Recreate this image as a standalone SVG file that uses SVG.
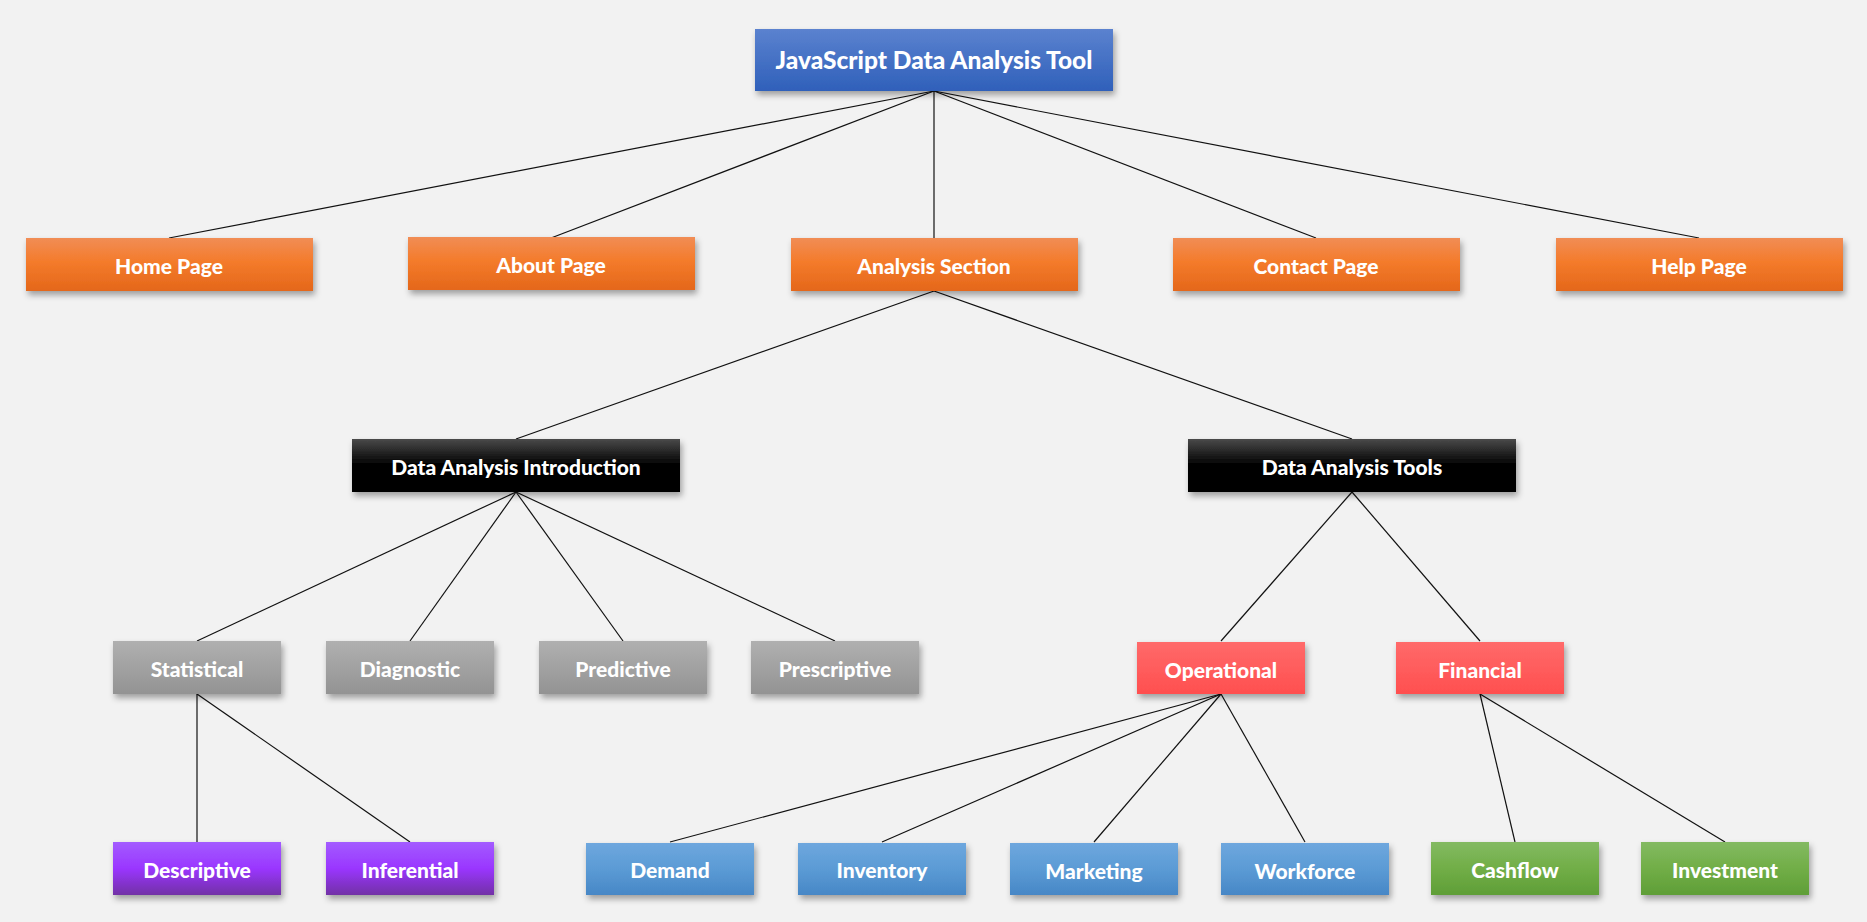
<svg xmlns="http://www.w3.org/2000/svg" width="1867" height="922" viewBox="0 0 1867 922">
<defs>
<linearGradient id="gBlue" x1="0" y1="0" x2="0" y2="1"><stop offset="0" stop-color="#5b82cf"/><stop offset="1" stop-color="#2f60ba"/></linearGradient>
<linearGradient id="gOrange" x1="0" y1="0" x2="0" y2="1"><stop offset="0" stop-color="#f18d55"/><stop offset="0.45" stop-color="#f47b2b"/><stop offset="1" stop-color="#e4671a"/></linearGradient>
<linearGradient id="gBlack" x1="0" y1="0" x2="0" y2="1"><stop offset="0" stop-color="#4a4a4a"/><stop offset="0.5" stop-color="#000"/><stop offset="1" stop-color="#000"/></linearGradient>
<linearGradient id="gGray" x1="0" y1="0" x2="0" y2="1"><stop offset="0" stop-color="#b0b0b0"/><stop offset="1" stop-color="#939393"/></linearGradient>
<linearGradient id="gRed" x1="0" y1="0" x2="0" y2="1"><stop offset="0" stop-color="#ff6a6a"/><stop offset="1" stop-color="#ff4f4f"/></linearGradient>
<linearGradient id="gPurple" x1="0" y1="0" x2="0" y2="1"><stop offset="0" stop-color="#a35cff"/><stop offset="0.5" stop-color="#9a36ff"/><stop offset="1" stop-color="#7230a6"/></linearGradient>
<linearGradient id="gLBlue" x1="0" y1="0" x2="0" y2="1"><stop offset="0" stop-color="#6ea7de"/><stop offset="0.5" stop-color="#5b9bd5"/><stop offset="1" stop-color="#4787c6"/></linearGradient>
<linearGradient id="gGreen" x1="0" y1="0" x2="0" y2="1"><stop offset="0" stop-color="#83ba62"/><stop offset="0.5" stop-color="#71ae47"/><stop offset="1" stop-color="#5f9e37"/></linearGradient>
<filter id="sh" x="-10%" y="-20%" width="125%" height="160%"><feDropShadow dx="2" dy="4" stdDeviation="3" flood-color="#000" flood-opacity="0.35"/></filter>
</defs>
<style>
.box{filter:url(#sh)}
text{font-family:"Lato","Open Sans","DejaVu Sans",sans-serif;font-weight:900;fill:#fff;text-anchor:middle;font-size:21px}
.t0{font-size:24.5px}
#connectors line{stroke:#111;stroke-width:1.2}
</style>
<rect width="1867" height="922" fill="#f2f2f2"/>
<g id="connectors">
<line x1="934" y1="91" x2="169" y2="238"/>
<line x1="934" y1="91" x2="551" y2="238"/>
<line x1="934" y1="91" x2="934" y2="238"/>
<line x1="934" y1="91" x2="1316" y2="238"/>
<line x1="934" y1="91" x2="1699" y2="238"/>
<line x1="934" y1="291" x2="516" y2="439"/>
<line x1="934" y1="291" x2="1352" y2="439"/>
<line x1="516" y1="492" x2="197" y2="641"/>
<line x1="516" y1="492" x2="410" y2="641"/>
<line x1="516" y1="492" x2="623" y2="641"/>
<line x1="516" y1="492" x2="835" y2="641"/>
<line x1="1352" y1="492" x2="1221" y2="641"/>
<line x1="1352" y1="492" x2="1480" y2="641"/>
<line x1="197" y1="694" x2="197" y2="842"/>
<line x1="197" y1="694" x2="410" y2="842"/>
<line x1="1221" y1="694" x2="670" y2="842"/>
<line x1="1221" y1="694" x2="882" y2="842"/>
<line x1="1221" y1="694" x2="1094" y2="842"/>
<line x1="1221" y1="694" x2="1305" y2="842"/>
<line x1="1480" y1="694" x2="1515" y2="842"/>
<line x1="1480" y1="694" x2="1725" y2="842"/>
</g>
<g id="root"><rect class="box" x="755" y="29" width="358" height="62" fill="url(#gBlue)"/><text class="t0" x="934" y="69">JavaScript Data Analysis Tool</text></g>
<g id="home"><rect class="box" x="26" y="238" width="287" height="53" fill="url(#gOrange)"/><text x="169" y="274">Home Page</text></g>
<g id="about"><rect class="box" x="408" y="237" width="287" height="53" fill="url(#gOrange)"/><text x="551" y="273">About Page</text></g>
<g id="analysis"><rect class="box" x="791" y="238" width="287" height="53" fill="url(#gOrange)"/><text x="934" y="274">Analysis Section</text></g>
<g id="contact"><rect class="box" x="1173" y="238" width="287" height="53" fill="url(#gOrange)"/><text x="1316" y="274">Contact Page</text></g>
<g id="help"><rect class="box" x="1556" y="238" width="287" height="53" fill="url(#gOrange)"/><text x="1699" y="274">Help Page</text></g>
<g id="intro"><rect class="box" x="352" y="439" width="328" height="53" fill="url(#gBlack)"/><text x="516" y="475">Data Analysis Introduction</text></g>
<g id="tools"><rect class="box" x="1188" y="439" width="328" height="53" fill="url(#gBlack)"/><text x="1352" y="475">Data Analysis Tools</text></g>
<g id="statistical"><rect class="box" x="113" y="641" width="168" height="53" fill="url(#gGray)"/><text x="197" y="677">Statistical</text></g>
<g id="diagnostic"><rect class="box" x="326" y="641" width="168" height="53" fill="url(#gGray)"/><text x="410" y="677">Diagnostic</text></g>
<g id="predictive"><rect class="box" x="539" y="641" width="168" height="53" fill="url(#gGray)"/><text x="623" y="677">Predictive</text></g>
<g id="prescriptive"><rect class="box" x="751" y="641" width="168" height="53" fill="url(#gGray)"/><text x="835" y="677">Prescriptive</text></g>
<g id="operational"><rect class="box" x="1137" y="642" width="168" height="52" fill="url(#gRed)"/><text x="1221" y="678">Operational</text></g>
<g id="financial"><rect class="box" x="1396" y="642" width="168" height="52" fill="url(#gRed)"/><text x="1480" y="678">Financial</text></g>
<g id="descriptive"><rect class="box" x="113" y="842" width="168" height="53" fill="url(#gPurple)"/><text x="197" y="878">Descriptive</text></g>
<g id="inferential"><rect class="box" x="326" y="842" width="168" height="53" fill="url(#gPurple)"/><text x="410" y="878">Inferential</text></g>
<g id="demand"><rect class="box" x="586" y="843" width="168" height="52" fill="url(#gLBlue)"/><text x="670" y="878">Demand</text></g>
<g id="inventory"><rect class="box" x="798" y="843" width="168" height="52" fill="url(#gLBlue)"/><text x="882" y="878">Inventory</text></g>
<g id="marketing"><rect class="box" x="1010" y="843" width="168" height="52" fill="url(#gLBlue)"/><text x="1094" y="879">Marketing</text></g>
<g id="workforce"><rect class="box" x="1221" y="843" width="168" height="52" fill="url(#gLBlue)"/><text x="1305" y="879">Workforce</text></g>
<g id="cashflow"><rect class="box" x="1431" y="842" width="168" height="53" fill="url(#gGreen)"/><text x="1515" y="878">Cashflow</text></g>
<g id="investment"><rect class="box" x="1641" y="842" width="168" height="53" fill="url(#gGreen)"/><text x="1725" y="878">Investment</text></g>
</svg>
